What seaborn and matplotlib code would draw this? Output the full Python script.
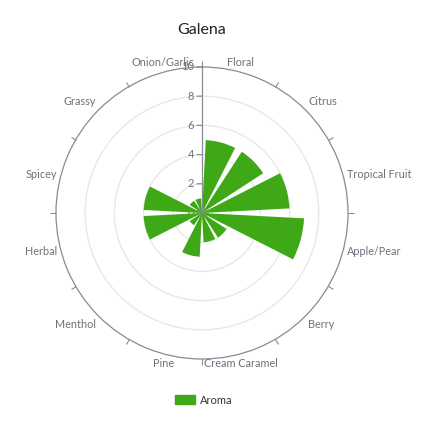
import numpy as np
import seaborn as sns
import matplotlib.pyplot as plt
from matplotlib.patches import Patch

categories = ['Floral', 'Citrus', 'Tropical Fruit', 'Apple/Pear', 'Berry', 'Cream Caramel',
              'Pine', 'Menthol', 'Herbal', 'Spicey', 'Grassy', 'Onion/Garlic']
aroma = [5, 5, 6, 7, 2, 2, 3, 1, 4, 4, 1, 1]
radial_ticks = [0, 2, 4, 6, 8, 10]
title = 'Galena'
series_name = 'Aroma'

sns.set_theme(style="white")
plt.rcParams['font.family'] = ['Lato', 'DejaVu Sans']

green = '#3fa816'
label_color = '#6e7079'
axis_color = '#8a8b93'

fig = plt.figure(figsize=(4.3, 4.3), dpi=100)
ax = fig.add_axes([0.1302, 0.1651, 0.6791, 0.6791], projection='polar')
ax.set_theta_zero_location('N')
ax.set_theta_direction(-1)

n = len(categories)
step = 2 * np.pi / n
centers = np.arange(n) * step + step / 2
ax.bar(centers, aroma, width=step * 0.8, color=green, edgecolor='none', zorder=3)

ax.set_ylim(0, 10)
ax.set_yticks(radial_ticks[1:-1])
ax.set_yticklabels([])
ax.yaxis.grid(True, color='#e6e6e6', linewidth=0.9)
ax.xaxis.grid(False)
ax.set_xticks(np.arange(n) * step)
ax.set_xticklabels([])
# outer-ring ticks at the category boundaries
ax.tick_params(axis='x', bottom=True, top=True, direction='out', length=4,
               width=0.8, color=axis_color, pad=0)
ax.spines['polar'].set_color(axis_color)
ax.spines['polar'].set_linewidth(0.9)

# radial axis along the top
ax.plot([0, 0], [0, 10], color=axis_color, linewidth=0.9, zorder=4)
for v in radial_ticks:
    ax.annotate('', xy=(0, v), xytext=(-3.5, 0), textcoords='offset points',
                arrowprops=dict(arrowstyle='-', color=axis_color, lw=0.9,
                                shrinkA=0, shrinkB=0), zorder=4)
    ax.annotate(str(v), xy=(0, v), xytext=(-5.5, 0), textcoords='offset points',
                ha='right', va='center', fontsize=8, color=label_color, zorder=2)

# category labels around the ring
for t, name in zip(centers, categories):
    sx, sy = np.sin(t), np.cos(t)
    ha = 'center' if abs(sx) < 0.3 else ('left' if sx > 0 else 'right')
    va = 'center' if abs(sy) < 0.3 else ('bottom' if sy > 0 else 'top')
    ax.text(t, 10.3, name, ha=ha, va=va, fontsize=7.8, color=label_color)

fig.text(0.4698, 1 - 30.5 / 430, title, ha='center', va='center', fontsize=11.5, color='#222222')

fig.legend(handles=[Patch(facecolor=green, edgecolor=green, label=series_name)],
           loc='center', bbox_to_anchor=(0.4745, 1 - 400 / 430), frameon=False,
           fontsize=8, handlelength=1.75, handleheight=0.9, handletextpad=0.5,
           labelcolor='#333333')

fig.savefig('out.png', dpi=100, facecolor='white')
